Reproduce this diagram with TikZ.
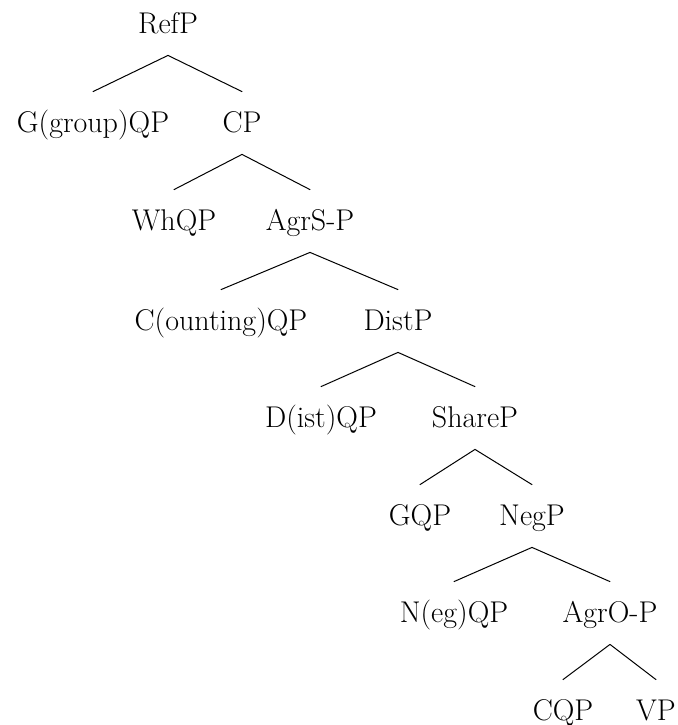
\documentclass[tikz,border=0pt]{standalone}
\usepackage{tikz}

\begin{document}
\begin{tikzpicture}[x=0.5pt,y=-0.5pt,line cap=round,line join=round,
    cat/.style={anchor=base,font=\fontsize{15}{18}\selectfont,inner xsep=0pt,inner ysep=7pt,text height=13pt,text depth=4pt},
    branch/.style={line width=0.5pt}]
        \useasboundingbox (0,0) rectangle (678,725);
        % labels, level by level
        \node[cat] (refp) at (168,33) {RefP};
        \node[cat] (groupqp) at (93,132) {G(group)QP};
        \node[cat] (cp) at (242,132) {CP};
        \node[cat] (whqp) at (174,230) {WhQP};
        \node[cat] (agrsp) at (310,230) {AgrS-P};
        \node[cat] (countqp) at (221,330) {C(ounting)QP};
        \node[cat] (distp) at (398,330) {DistP};
        \node[cat] (distqp) at (321,427) {D(ist)QP};
        \node[cat] (sharep) at (475,427) {ShareP};
        \node[cat] (gqp) at (420,525) {GQP};
        \node[cat] (negp) at (532,525) {NegP};
        \node[cat] (negqp) at (454,622) {N(eg)QP};
        \node[cat] (agrop) at (610,622) {AgrO-P};
        \node[cat] (cqp) at (563,720) {CQP};
        \node[cat] (vp) at (656,720) {VP};
        % branches
        \draw[branch] (groupqp.north) -- (refp.south) -- (cp.north);
        \draw[branch] (whqp.north) -- (cp.south) -- (agrsp.north);
        \draw[branch] (countqp.north) -- (agrsp.south) -- (distp.north);
        \draw[branch] (distqp.north) -- (distp.south) -- (sharep.north);
        \draw[branch] (gqp.north) -- (sharep.south) -- (negp.north);
        \draw[branch] (negqp.north) -- (negp.south) -- (agrop.north);
        \draw[branch] (cqp.north) -- (agrop.south) -- (vp.north);
\end{tikzpicture}
\end{document}
